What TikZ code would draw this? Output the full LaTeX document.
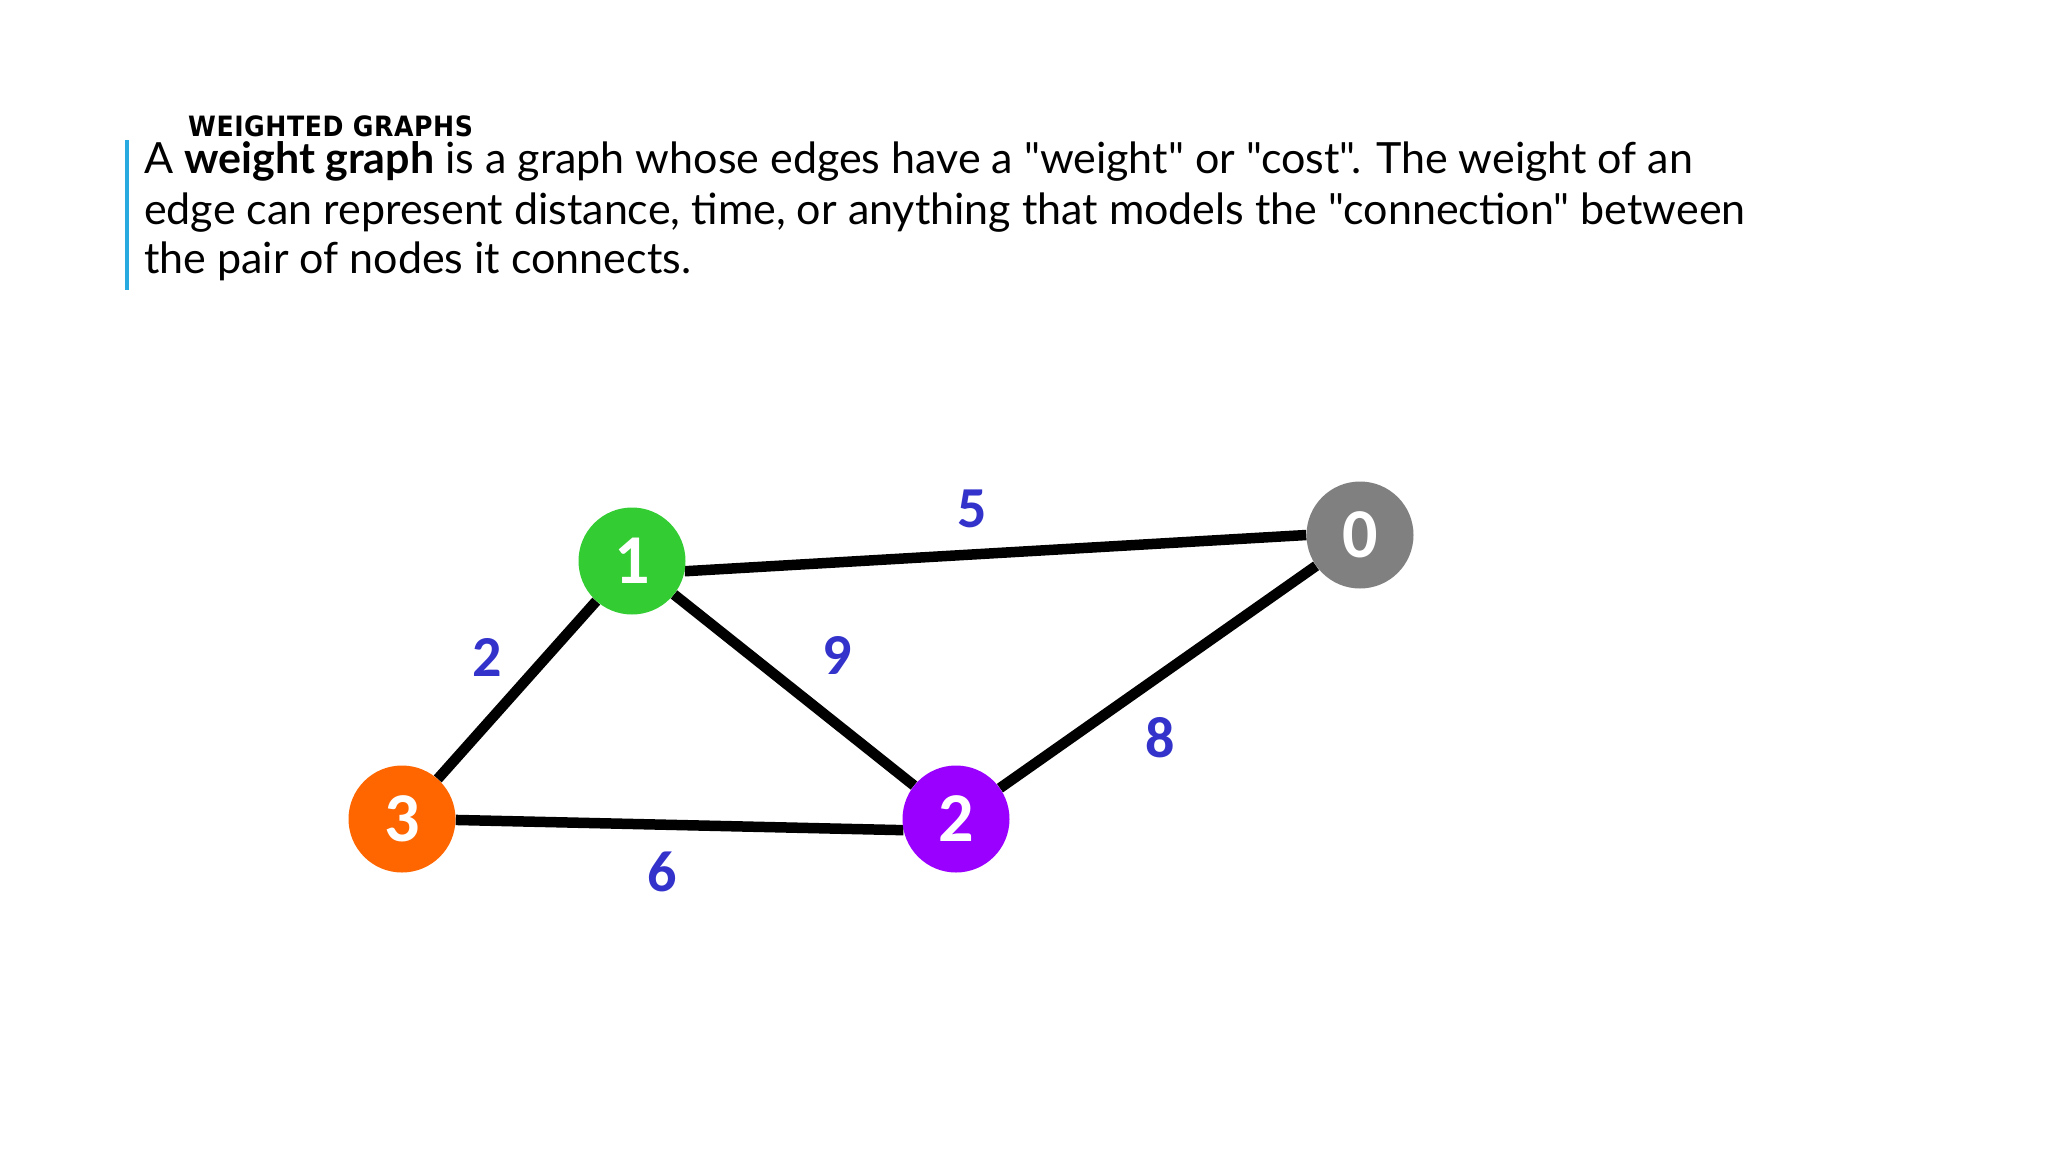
\documentclass[tikz,border=0pt]{standalone}
\usepackage{fontspec}
\setmainfont{Lato}[Ligatures=TeXOff]
\newfontfamily\titlefont[LetterSpace=2]{DejaVu Sans Condensed}
\newfontfamily\digitfont{Carlito}
\usetikzlibrary{backgrounds}

\definecolor{barblue}{RGB}{40,170,225}
\definecolor{wblue}{RGB}{51,51,204}
\definecolor{vgreen}{RGB}{51,204,51}
\definecolor{vgray}{RGB}{128,128,128}
\definecolor{vorange}{RGB}{255,102,0}
\definecolor{vpurple}{RGB}{153,0,255}

\tikzset{
  vertex/.style={circle, minimum size=107pt, inner sep=0pt, text=white,
    font=\digitfont\bfseries\fontsize{70}{70}\selectfont},
  weight/.style={inner sep=0pt, text=wblue,
    font=\digitfont\bfseries\fontsize{58}{58}\selectfont},
  link/.style={line width=10.5pt},
  body/.style={anchor=base west, inner sep=0pt, font=\fontsize{43}{51}\selectfont}
}

\begin{document}
\begin{tikzpicture}[x=1pt,y=-1pt]
  \useasboundingbox (0,0) rectangle (2048,1152);
  % heading and text
  \node[anchor=base west, inner sep=0pt, font=\titlefont\bfseries\fontsize{28}{28}\selectfont]
    (title) at (188,136) {WEIGHTED GRAPHS};
  \coordinate (bartop) at (127,140);
  \coordinate (barbot) at (127,290);
  \draw[barblue, line width=4pt] (bartop) -- (barbot);
  \node[body] (line1) at (144,173) {A \textbf{weight graph} is a graph whose edges have a "weight" or "cost". The weight of an};
  \node[body] (line2) at (144,224) {edge can represent distance, time, or anything that models the "connection" between};
  \node[body] (line3) at (144,273) {the pair of nodes it connects.};

  % the graph
  \node[vertex, fill=vgreen]  (n1) at (632,561) {1};
  \node[vertex, fill=vgray]   (n0) at (1360,535) {0};
  \node[vertex, fill=vorange] (n3) at (402,819) {3};
  \node[vertex, fill=vpurple] (n2) at (956,819) {2};
  \begin{scope}[on background layer]
  \path[link]
  (n1.-11) edge (n0.180)
  (n1) edge (n3)
  (n1) edge (n2)
  (n2) edge (n0)
  (n3.-1) edge (n2.-168);
  \end{scope}
  \node[weight] (w5) at (972,509) {5};
  \node[weight] (w2) at (487,657) {2};
  \node[weight] (w9) at (837,655) {9};
  \node[weight] (w8) at (1160,738) {8};
  \node[weight] (w6) at (662,872) {6};
\end{tikzpicture}
\end{document}
